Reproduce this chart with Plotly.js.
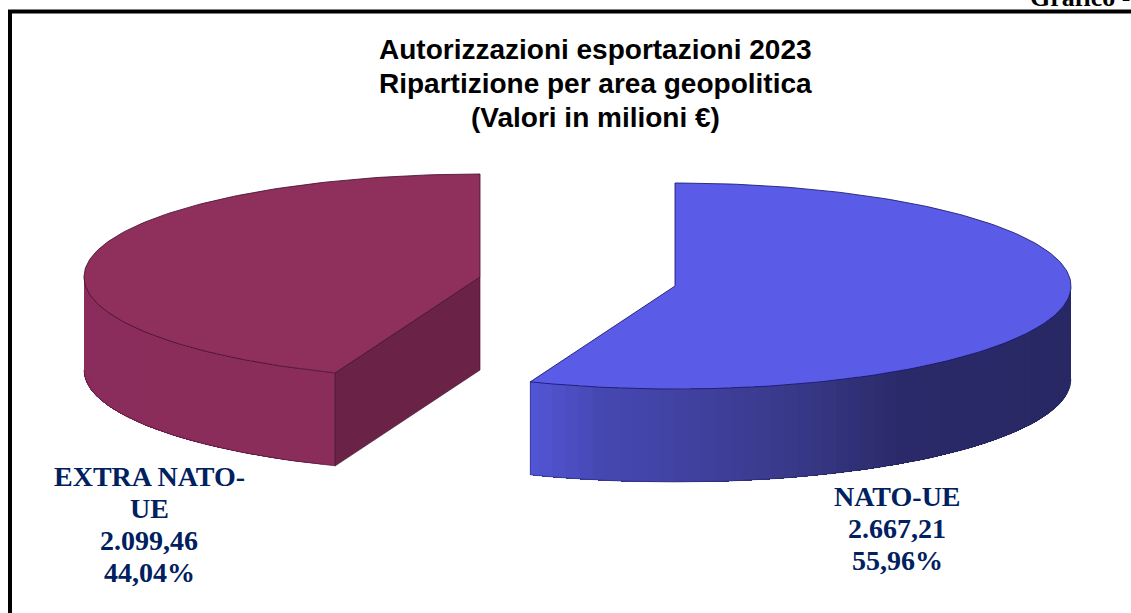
<!DOCTYPE html>
<html>
<head>
<meta charset="utf-8">
<script src="https://cdn.plot.ly/plotly-3.0.1.min.js"></script>
<style>html,body{margin:0;padding:0;background:#fff;overflow:hidden}#chart{width:1131px;height:613px}</style>
</head>
<body>
<div id="chart"></div>
<script>
// ---- data ----
const categories = ["NATO-UE", "EXTRA NATO-UE"];
const values = [2667.21, 2099.46];
const valueLabels = ["2.667,21", "2.099,46"];
const percentLabels = ["55,96%", "44,04%"];
const categoryLines = [["NATO-UE"], ["EXTRA NATO-", "UE"]];
const titleLines = ["Autorizzazioni esportazioni 2023", "Ripartizione per area geopolitica", "(Valori in milioni €)"];
const cornerText = "Grafico -";

// ---- styling / geometry of the exploded 3D pie ----
const W = 1131, H = 613;
const centres = [[675, 286], [480, 277]];
const rx = 396, ry = 103, depth = 93;
const topColours = ["#5a5ce8", "#8e2f5c"];
const edgeColours = ["rgba(24,24,110,0.85)", "rgba(70,16,48,0.85)"];
const rimColours = ["rgba(30,30,90,0.45)", "rgba(70,16,48,0.6)"];
const innerColour = "#6a2346";
const sideStops = [
  [[530, [82, 86, 214]], [600, [70, 72, 178]], [700, [64, 64, 158]], [800, [56, 56, 136]], [900, [42, 42, 106]], [1071, [40, 40, 100]]],
  [[84, [138, 45, 92]], [335, [138, 45, 90]]]
];
const labelFont = {family: "Liberation Serif", size: 28, color: "#002060"};

const total = values.reduce((a, b) => a + b, 0);
const rad = d => d * Math.PI / 180;
const px = (c, t) => c[0] + rx * Math.sin(rad(t));
const py = (c, t, dy = 0) => c[1] - ry * Math.cos(rad(t)) + dy;

function range(a, b, step) {
  const out = [];
  for (let t = a; t < b; t += step) out.push(t);
  out.push(b);
  return out;
}
function colourAt(stops, x) {
  if (x <= stops[0][0]) return stops[0][1];
  for (let i = 1; i < stops.length; i++) {
    if (x <= stops[i][0]) {
      const f = (x - stops[i - 1][0]) / (stops[i][0] - stops[i - 1][0]);
      return stops[i - 1][1].map((v, k) => Math.round(v + f * (stops[i][1][k] - v)));
    }
  }
  return stops[stops.length - 1][1];
}
function poly(xs, ys, fill, line, width) {
  return {
    type: "scatter", mode: "lines", x: xs, y: ys, fill: "toself", fillcolor: fill,
    line: {color: line, width: width}, hoverinfo: "skip", showlegend: false
  };
}
function outline(xs, ys, line) {
  return {type: "scatter", mode: "lines", x: xs, y: ys, line: {color: line, width: 1}, hoverinfo: "skip", showlegend: false};
}

const traces = [];
let start = 0;
values.forEach((v, i) => {
  const end = start + v / total * 360;
  const c = centres[i];
  const arc = range(start, end, 1);

  // side wall below the front of the rim: painted band over band, each reaching to the wall's far end
  const a0 = Math.max(start, 90), a1 = Math.min(end, 270);
  const bands = range(a0, a1, 2);
  for (let k = 0; k < bands.length - 1; k++) {
    const rest = bands.slice(k);
    const rgb = colourAt(sideStops[i], (px(c, bands[k]) + px(c, bands[k + 1])) / 2);
    const xs = rest.map(t => px(c, t)).concat(rest.slice().reverse().map(t => px(c, t)));
    const ys = rest.map(t => py(c, t)).concat(rest.slice().reverse().map(t => py(c, t, depth)));
    const col = `rgb(${rgb.join(",")})`;
    traces.push({type: "scatter", mode: "none", x: xs, y: ys, fill: "toself", fillcolor: col, hoverinfo: "skip", showlegend: false});
  }
  // cut face, visible for the left slice only
  if (start > 90 && end > 270) {
    traces.push(poly(
      [c[0], px(c, start), px(c, start), c[0], c[0]],
      [c[1], py(c, start), py(c, start, depth), c[1] + depth, c[1]],
      innerColour, edgeColours[i], 0.8));
  }
  // top surface
  const xs = [c[0]].concat(arc.map(t => px(c, t)), [c[0]]);
  const ys = [c[1]].concat(arc.map(t => py(c, t)), [c[1]]);
  traces.push(poly(xs, ys, topColours[i], edgeColours[i], 1));
  // lower rim and wall edges
  const low = range(a0, a1, 1);
  traces.push(outline(low.map(t => px(c, t)), low.map(t => py(c, t, depth)), rimColours[i]));
  const edgeT = start > 90 ? start : a1;
  traces.push(outline([px(c, edgeT), px(c, edgeT)], [py(c, edgeT), py(c, edgeT, depth)], rimColours[i]));
  start = end;
});

const annotations = [];
const labelCentres = [[897, 496], [149, 476]];
const lineGap = 32.3;
categories.forEach((name, i) => {
  const lines = categoryLines[i].concat([valueLabels[i], percentLabels[i]]);
  lines.forEach((txt, k) => annotations.push({
    x: labelCentres[i][0], y: labelCentres[i][1] + k * lineGap, xref: "x", yref: "y",
    text: "<b>" + txt + "</b>", showarrow: false, font: labelFont, xanchor: "center", yanchor: "middle"
  }));
});
titleLines.forEach((txt, k) => annotations.push({
  x: 595.5, y: 49 + k * 34, xref: "x", yref: "y", text: "<b>" + txt + "</b>", showarrow: false,
  font: {family: "Liberation Sans", size: 28, color: "#000"}, xanchor: "center", yanchor: "middle"
}));
annotations.push({
  x: 1028, y: 0, xref: "x", yref: "y", yshift: 3, text: "<b>" + cornerText + "</b>", showarrow: false,
  font: {family: "Liberation Serif", size: 26, color: "#000"}, xanchor: "left", yanchor: "middle"
});

const hidden = {visible: false, fixedrange: true};
Plotly.newPlot("chart", traces, {
  width: W, height: H, margin: {l: 0, r: 0, t: 0, b: 0},
  paper_bgcolor: "#fff", plot_bgcolor: "#fff", showlegend: false,
  xaxis: Object.assign({range: [0, W]}, hidden),
  yaxis: Object.assign({range: [H, 0]}, hidden),
  annotations: annotations,
  shapes: [{type: "rect", xref: "x", yref: "y", x0: 10, y0: 11.5, x1: W + 20, y1: H + 20, line: {color: "#000", width: 4}, fillcolor: "rgba(0,0,0,0)", layer: "below"}]
}, {displayModeBar: false, staticPlot: true});
</script>
</body>
</html>
